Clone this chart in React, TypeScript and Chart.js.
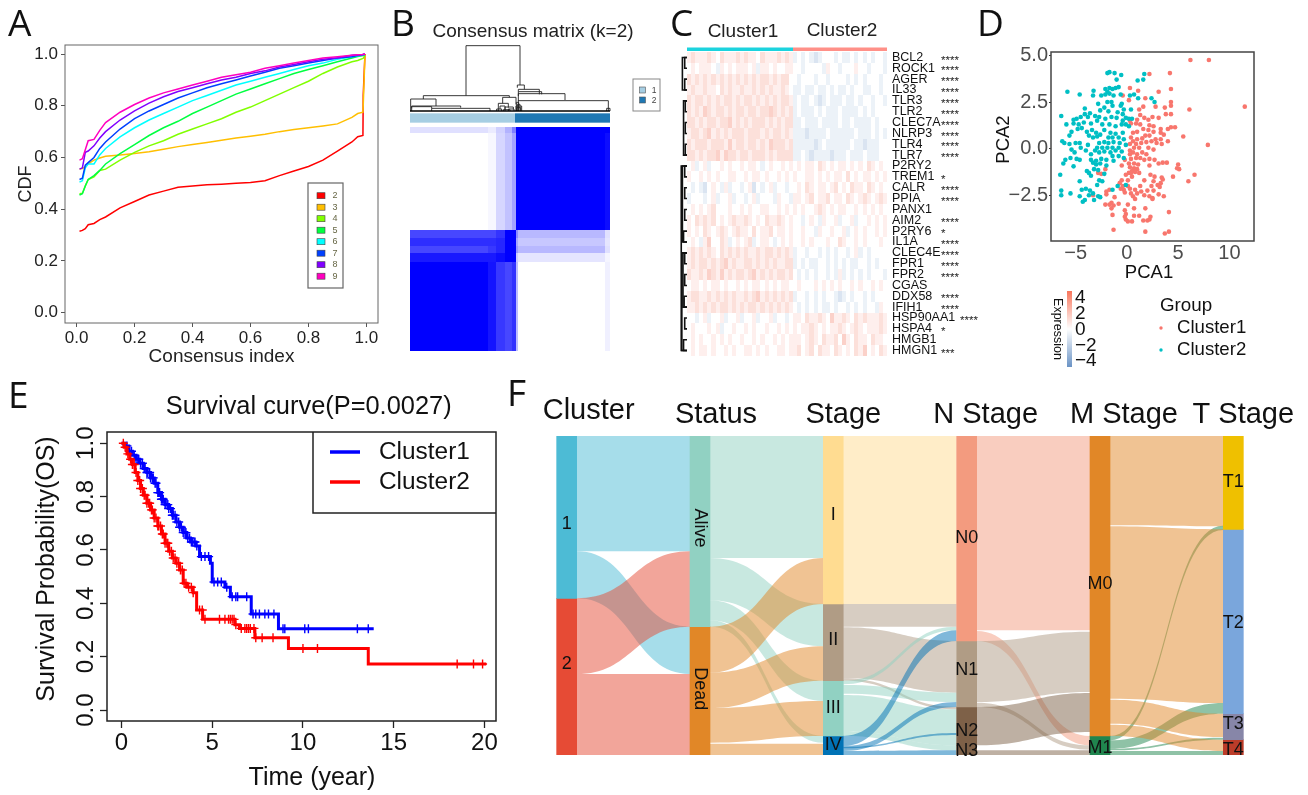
import React, { useEffect, useRef } from "react";
import { Chart, registerables } from "chart.js";
Chart.register(...registerables);

const FONT = '"Liberation Sans", Arial, sans-serif';
Chart.defaults.font.family = FONT;

/* ---------- Panel A ---------- */
const CONSENSUS_INDEX = [.01,.02,.03,.04,.06,.08,.1,.15,.2,.25,.3,.35,.4,.45,.5,.55,.6,.65,.7,.75,.8,.85,.9,.95,.97,.988,.989,.995];
const CDF_K2 = [.315,.318,.325,.34,.345,.36,.37,.405,.43,.455,.47,.485,.49,.495,.497,.5,.503,.51,.53,.548,.565,.59,.625,.66,.68,.685,.84,1];
const CDF_K3 = [.555,.557,.565,.575,.59,.598,.605,.61,.615,.622,.632,.642,.65,.658,.667,.675,.682,.69,.7,.708,.715,.722,.73,.755,.77,.775,.8,.995];
const CDF_K4 = [.46,.462,.49,.515,.525,.55,.555,.59,.62,.645,.665,.69,.71,.73,.75,.775,.795,.82,.845,.87,.895,.925,.95,.97,.975,.983,.984,.995];
const CDF_K5 = [.455,.46,.49,.515,.53,.55,.575,.615,.65,.685,.715,.74,.77,.795,.82,.845,.865,.885,.905,.925,.94,.955,.97,.985,.99,.994,.995,.998];
const CDF_K6 = [.505,.51,.56,.575,.575,.61,.635,.68,.715,.745,.77,.795,.82,.84,.86,.88,.895,.91,.925,.94,.955,.965,.98,.99,.993,.996,.997,.998];
const CDF_K7 = [.515,.52,.57,.58,.6,.635,.66,.71,.75,.78,.805,.83,.85,.87,.885,.9,.915,.93,.945,.955,.965,.975,.985,.99,.994,.997,.998,.998];
const CDF_K8 = [.555,.56,.62,.625,.645,.675,.7,.745,.78,.81,.835,.855,.87,.885,.9,.91,.925,.935,.95,.96,.97,.98,.985,.995,.997,.998,.999,1];
const CDF_K9 = [.59,.595,.63,.665,.67,.705,.735,.775,.805,.83,.85,.865,.88,.895,.91,.92,.93,.945,.955,.965,.975,.985,.99,.995,.997,.998,.999,1];
const CDF_SERIES = [CDF_K2, CDF_K3, CDF_K4, CDF_K5, CDF_K6, CDF_K7, CDF_K8, CDF_K9];
const K_LABELS = ["2","3","4","5","6","7","8","9"];
const K_COLORS = ["#FF0000","#FFBF00","#80FF00","#00FF40","#00FFFF","#0040FF","#8000FF","#FF00BF"];

/* ---------- Panel B ---------- */
const MATRIX_COLS = [0,235,258,285,305,318,325,585,600];
const MATRIX_ROWS = [-49,-67,-357,-381,-405,-427,-452,-719];
const MATRIX_VALUES = [
  [.12,.08,.18,.3,.5,1,1,1],
  [0,.03,.16,.24,.36,1,1,.95],
  [.72,.72,.8,1,1,.45,.28,.12],
  [.82,.82,.85,1,1,.35,.22,.1],
  [.72,.78,.85,1,1,.4,.28,.12],
  [.9,.9,.95,1,1,.2,.1,.04],
  [1,.92,.78,.72,.8,.25,0,.06],
];
// left, right, height, left-leg base, right-leg base
const MATRIX_DENDRO = [
  [168,330,196,46,78],[40,298,46,36,41],[2,78,36,0,15],[5,152,15,8,10],[5,65,13,0,8],[65,240,8,0,0],
  [278,318,41,23,20],[265,295,23,0,10],[270,285,15,5,3],[285,310,12,0,5],[295,312,6,0,0],[260,275,6,0,0],[280,300,4,0,0],
  [322,343,78,70,65],[325,388,65,58,50],[325,395,58,45,50],[325,465,52,30,33],[325,595,31,0,0],[590,600,8,0,0],
  [318,335,15,0,0],[320,332,10,0,0],[322,330,20,0,0],[319,326,26,0,0],
];
const MATRIX_GROUP_BREAK = 315;

/* ---------- Panel C ---------- */
const GENES = ["BCL2","ROCK1","AGER","IL33","TLR3","TLR2","CLEC7A","NLRP3","TLR4","TLR7","P2RY2","TREM1","CALR","PPIA","PANX1","AIM2","P2RY6","IL1A","CLEC4E","FPR1","FPR2","CGAS","DDX58","IFIH1","HSP90AA1","HSPA4","HMGB1","HMGN1"];
const GENE_STARS = ["****","****","****","****","****","****","****","****","****","****","","*","****","****","","****","*","****","****","****","****","","****","****","****","*","","***"];
const HEAT_ROWS = [
  "5655565465556 5655465556565 34343234443433434343443",
  "4545554354545 5545355454455 44344443544344454434443",
  "6565656565656 5656566565664 43444344344443434344434",
  "5655655465655 6556565655654 33433433434334344334434",
  "6566565656656 5665656565665 34334323433343343443443",
  "6565765665656 6566566765656 34333434333433334343444",
  "6656566566756 5656665656566 33433343333433433334344",
  "5665675656566 6566656566565 33323333433333343334343",
  "6566656665756 6566565766656 33333234333333433233344",
  "6656566757665 6656665656666 33432333323334333433344",
  "4534534454544 5455434544545 45455465454554545465454",
  "5445454544554 4545545445454 54455454545546454554545",
  "4343245435344 3452434534434 45465455456454655465454",
  "3444345344534 4345344435443 55456455645546545654565",
  "4545456444544 5454455445454 54544565454554454545454",
  "5465656454565 5654546556545 44345435445344534454545",
  "5454654565456 5546455645545 44544354454453454544545",
  "4543574465345 4563455434545 44545444544654454544454",
  "5656565465656 5655656656565 34434434343443453434444",
  "5656656567565 5665656565566 34343344343434334434344",
  "6556576575656 6567565656656 43434344343534343434443",
  "4554545545445 4545545454554 45444545454544545445454",
  "5665565656565 5656756565656 34434343443234344343444",
  "5565656566565 6566565656565 43434343343443434344354",
  "4434534453445 3445344534434 55465565475565465655565",
  "4544454534454 4545445445454 54556545455654565455565",
  "4545445454544 5445454454545 55456546556475465546554",
  "4545545445454 4554545445545 56456465546545465745465",
];
const HEAT_COLUMNS = 49;
const HEAT_CLUSTER_BREAK = 26;
// depth, first row, last row
const GENE_DENDRO = [[4,0,3],[2,0,1],[2,2,3],[3,4,9],[1.5,4,5],[1.5,6,7],[1.5,8,9],[5,10,27],[2,10,11],[2,12,13],[2,14,15],[3,16,17],[2,18,19],[2,20,21],[2.5,22,23],[2,24,25],[3,26,27],[3.5,18,23],[4,10,17],[4.5,18,27]];

/* ---------- Panel D ---------- */
const PCA_CLUSTER1 = [[6.2,4.75],[8,4.75],[11.5,2.25],[7.9,.2],[2.2,4],[4.2,4.05],[.3,3.25],[1.1,3.1],[3.1,3.05],[4.3,3.2],[-.4,2.85],[.2,2.6],[1.8,2.7],[4.3,2.5],[4.3,2.3],[3.7,2.2],[2.8,2.25],[1.6,2.25],[1.2,2.1],[6.1,2.1],[3.8,1.85],[4.3,1.85],[1.3,1.8],[1.7,1.65],[2.5,1.7],[3.1,1.65],[.3,1.5],[1,1.55],[2.1,1.55],[.9,1.35],[1.3,1.3],[.4,1.35],[2.2,1.25],[2.6,1.2],[4.3,1.15],[4.7,1.15],[3.3,1.05],[4,1.05],[5.5,.65],[1.6,1.05],[2.1,1],[2.6,.9],[1,.9],[.6,.85],[3.3,.85],[3.6,.75],[1.8,.7],[.4,.6],[2.2,.7],[1.5,.55],[1,.5],[.6,.4],[2.8,.5],[3.3,.5],[4,.4],[2.4,.4],[1.9,.35],[1.4,.3],[.9,.25],[.3,.25],[2.9,.3],[3.4,.25],[.7,.05],[1.2,.05],[2.1,.05],[2.6,-.05],[.3,-.1],[.6,-.2],[1,-.3],[1.5,-.2],[1.9,-.3],[.3,-.3],[.9,-.5],[1.3,-.5],[.4,-.55],[1.7,-.6],[2.2,-.55],[2.7,-.6],[-.2,-.6],[.2,-.8],[.7,-.8],[1.1,-.85],[3.1,-.8],[3.5,-.75],[3.9,-.75],[2.2,-.9],[.3,-1],[.7,-1.05],[1,-1.1],[5,-.85],[4.9,-1.05],[.5,-1.2],[.8,-1.25],[.2,-1.3],[1.2,-1.3],[.4,-1.3],[-.5,-.9],[-2.8,-1.3],[-2.5,-1.35],[-2.1,-1.1],[-.1,-1.4],[.5,-1.5],[2.3,-1.4],[2.7,-1.5],[3.4,-1.55],[3.5,-1.65],[4.5,-1.5],[5.1,-1.1],[6.6,-1.4],[6,-1.75],[-.5,-1.7],[-.7,-1.85],[.1,-1.7],[1.7,-1.7],[2.6,-1.75],[3.3,-1.85],[-.4,-2],[.1,-2],[1.3,-2],[2.4,-2],[3,-1.95],[3.2,-2.05],[-.6,-2.15],[-.3,-2.2],[.3,-2.15],[.8,-2.2],[1.4,-2.3],[2,-2.25],[2.6,-2.25],[-1.7,-2.2],[-2,-2.3],[-.2,-2.35],[.4,-2.4],[1,-2.4],[3.1,-2.45],[-3.3,-2.5],[-2,-2.45],[.6,-2.55],[1.7,-2.5],[2.2,-2.55],[2.5,-2.65],[3.6,-2.55],[-1.2,-2.6],[.8,-2.7],[2.5,-2.7],[-1.5,-2.9],[-2.1,-3],[-1.7,-3],[-1.3,-3.05],[-.8,-2.95],[.1,-3],[-1.5,-3.2],[.7,-3.2],[1.8,-3.2],[-.2,-3.3],[-.1,-3.5],[4.1,-3.4],[-1.4,-3.55],[-.2,-3.65],[.7,-3.6],[1.2,-3.6],[2.3,-3.65],[-.1,-3.8],[.1,-3.9],[.5,-3.9],[1.6,-3.85],[2,-3.85],[2.2,-3.8],[-1.3,-4.35],[1.8,-4.45],[3.7,-4.55],[4.1,-4.45]];
const PCA_CLUSTER2 = [[-1.9,4.05],[-1.7,4.1],[-1.2,4.05],[-.55,3.95],[-1,3.7],[1.7,4],[1.6,3.7],[1.05,3.65],[-5.8,3.05],[-3.25,3.1],[-2.1,3.2],[-1.9,3.05],[-1.7,3.25],[-1.4,3.2],[-1.1,3.25],[-.8,3.3],[-4.6,2.9],[-3.3,2.85],[-2.5,2.85],[-2.1,2.9],[-1.7,2.95],[-1.3,2.85],[-.6,2.9],[.3,2.85],[.7,2.9],[1.1,2.7],[2.4,2.7],[2.7,2.5],[-2.8,2.4],[-1.9,2.5],[-1.5,2.5],[-.5,2.4],[-4.1,2.15],[-2.2,2.2],[-1.4,2.3],[-.6,2.3],[-.3,2.1],[.4,2.1],[-3.6,1.9],[-2.6,2.05],[-1.8,2],[-.9,1.95],[-.4,1.85],[-4.1,1.85],[-4.5,1.7],[-4.9,1.6],[-5.2,1.55],[-6.4,1.75],[-3.8,1.7],[-3.1,1.75],[-2.7,1.7],[-2.1,1.6],[-1.5,1.7],[-1,1.65],[-.4,1.5],[-.1,1.65],[.2,1.6],[.5,1.6],[-5.9,1.3],[-5.2,1.35],[-4.7,1.3],[-4.2,1.4],[-3.5,1.35],[-2.9,1.5],[-2.4,1.3],[-1.7,1.3],[-1.1,1.2],[-.5,1.3],[-.1,1.3],[.2,1.2],[-5.4,.9],[-4.8,1.05],[-4.4,1.1],[-3.9,.9],[-3.4,1],[-3,.85],[-2.6,.75],[-2.2,1],[-1.6,.85],[-1.1,.8],[-.4,.85],[-5.6,.7],[-3.7,.7],[-3.3,.6],[-2.9,.65],[-1.8,.6],[-1.4,.6],[-.8,.6],[-.3,.5],[-6.3,.4],[-6.1,.3],[-5.6,.25],[-5,.3],[-4.6,.3],[-3.8,.2],[-2.7,.3],[-2.2,.35],[-1.8,.3],[-1.3,.35],[-.7,.3],[-.1,.2],[-5.4,-.05],[-4.5,.05],[-2.9,.05],[-2.4,.05],[-1.9,.05],[-1.4,.05],[-.8,.05],[-5.1,-.2],[-4,-.1],[-3.1,-.1],[-2.7,-.2],[-2.2,-.15],[-1.6,-.2],[-1.1,-.1],[-.5,-.15],[-3.5,-.3],[-1.4,-.4],[-.8,-.4],[-6,-.6],[-5.5,-.5],[-4.9,-.55],[-4.6,-.6],[-3.5,-.6],[-3,-.65],[-2.5,-.55],[-2,-.6],[-1.3,-.65],[-.3,-.5],[-6.2,-.8],[-5.2,-.95],[-3.3,-.75],[-3,-.85],[-2.6,-.8],[-2,-.9],[-3.2,-1.1],[-3.9,-1.2],[-3.7,-1.3],[-2.8,-1.15],[-3.5,-1.45],[-2.2,-1.35],[-6.5,-1.4],[-4.6,-1.75],[-2.7,-1.7],[-2.9,-1.95],[-2.4,-1.75],[-4.4,-2.2],[-4,-2.15],[-3.6,-2.25],[-3.3,-2.4],[-6.4,-2.25],[-6.4,-2.5],[-5.5,-2.4],[-4.6,-2.55],[-3.7,-2.5],[-2.8,-2.55],[-1.4,-2.2],[-.9,-2],[-.1,-1.95],[-2.6,-2.6],[-4.1,-2.75],[-4.3,-2.85],[-3.2,-2.75]];
const EXPRESSION_TICKS = [4,2,0,-2,-4];

/* ---------- Panel E ---------- */
const C1_TIME = [0,.2,.4,.6,.8,1,1.2,1.4,1.6,1.8,2,2.2,2.4,2.6,2.8,3,3.2,3.4,3.6,3.8,4.1,4.3,4.9,5,5.7,6,7.15,8.65,13.9];
const C1_SURV = [1,.99,.97,.955,.94,.925,.905,.89,.87,.85,.815,.79,.77,.755,.73,.705,.685,.665,.645,.63,.615,.575,.55,.48,.46,.425,.36,.305,.305];
const C2_TIME = [0,.15,.3,.45,.6,.75,.9,1.05,1.2,1.4,1.6,1.8,2,2.2,2.4,2.6,2.8,3,3.2,3.4,3.6,3.95,4.14,4.47,6.25,6.5,7.35,9.2,13.6,20.1];
const C2_SURV = [1,.985,.96,.94,.92,.89,.86,.83,.805,.775,.75,.72,.69,.66,.625,.595,.57,.55,.525,.475,.46,.44,.375,.34,.32,.306,.271,.231,.1725,.1725];
const C1_CENSOR = [.3,.45,.55,.7,.8,.9,.95,1.05,1.15,1.25,1.3,1.4,1.45,1.55,1.6,1.7,1.75,1.85,1.9,2,2.05,2.1,2.2,2.25,2.3,2.4,2.45,2.55,2.6,2.7,2.8,2.85,2.95,3.05,3.15,3.2,3.3,3.4,3.5,3.55,3.65,3.75,3.85,3.9,4,4.05,4.15,4.4,4.6,4.8,5.1,5.3,5.5,5.8,6.1,6.3,6.4,6.9,7.25,7.4,7.6,7.9,8.1,8.4,8.9,9,10.1,10.3,13,13.6];
const C2_CENSOR = [.1,.2,.35,.5,.6,.7,.8,.9,1,1.05,1.15,1.25,1.3,1.4,1.5,1.55,1.65,1.7,1.8,1.9,2,2.05,2.15,2.25,2.3,2.4,2.5,2.55,2.65,2.75,2.85,2.95,3.05,3.15,3.25,3.35,3.45,3.55,3.7,3.85,3.95,4.3,4.45,4.6,5.4,5.7,5.9,6,6.1,6.2,6.3,6.6,6.8,6.9,7,7.1,7.3,7.4,7.75,8.35,10,10.8,18.5,19.4,19.9];

/* ---------- Panel F ---------- */
const AXES = ["Cluster","Status","Stage","N Stage","M Stage","T Stage"];
const AXIS_TITLE_SHIFT = [22,16,10,19,24,10];
const NODE_NAMES = ["1","2","Alive","Dead","I","II","III","IV","N0","N1","N2","N3","M0","M1","T1","T2","T3","T4"];
const NODE_AXIS =  [0,0,1,1,2,2,2,2,3,3,3,3,4,4,5,5,5,5];
const NODE_START = [167,654,167,739,167,671,901,1067,167,782,980,1095,167,1067,167,447,1000,1078];
const NODE_END =   [654,1124,739,1124,671,901,1067,1124,782,980,1095,1124,1067,1124,447,1000,1078,1124];
const NODE_LABEL_AT = [430,850,443,925,405,778,983,1095,472,870,1052,1113,612,1103,305,728,1030,1108];
const NODE_COLORS = ["#4DBBD5","#E64B35","#91D1C2","#E18727","#FFDC91","#B09C85","#91D1C2","#0072B5","#F39B7F","#B09C85","#7E6148","#7E6148","#E18727","#20854E","#EFC000","#7AA6DC","#8786A8","#BC3C29"];
// source node, from top, from bottom, to top, to bottom
const FLOWS = [
  [0,167,513,167,513],[0,513,654,739,881],[1,654,881,513,739],[1,881,1124,881,1124],
  [2,167,533,167,533],[2,533,660,671,798],[2,660,720,901,962],[2,720,739,1067,1087],
  [3,739,877,533,671],[3,877,983,798,901],[3,983,1087,962,1067],[3,1090,1124,1090,1124],
  [4,167,671,167,671],[5,671,739,671,739],[5,741,894,782,937],[5,894,901,980,987],
  [6,901,912,739,750],[6,914,940,937,965],[6,944,1052,987,1095],[6,1052,1067,1095,1110],
  [7,1067,1097,750,782],[7,1097,1112,965,980],[7,1112,1124,1110,1124],
  [8,167,750,167,750],[8,752,782,1067,1095],[9,782,965,754,935],[9,967,980,1095,1108],
  [10,980,1095,938,1055],[7,1100,1104,1058,1064],[11,1110,1124,1110,1124],
  [12,167,435,167,438],[13,1067,1080,436,449],[12,438,955,447,968],[13,1080,1105,968,1000],
  [12,958,1030,1000,1070],[13,1105,1110,1072,1078],[12,1033,1067,1078,1112],[13,1112,1124,1112,1124],
];

const PANEL_LETTERS = [["A",8,2],["B",391,2],["C",670,2],["D",977,2],["E",8,374],["F",507,372]];

/* ---------- helpers ---------- */
const stepAt = (ts: number[], ss: number[], t: number) => {
  let v = ss[0];
  ts.forEach((x, i) => { if (x <= t) v = ss[i]; });
  return v;
};
const zip = (xs: number[], ys: number[]) => xs.map((x, i) => ({ x, y: ys[i] }));
const fit = (size: number) => (s: any) => {
  if (s.isHorizontal()) s.height = size; else s.width = size;
  s.paddingLeft = s.paddingRight = s.paddingTop = s.paddingBottom = 0;
};
const text = (ctx: any, str: string, x: number, y: number, font: string, color = "#000", align = "left", rot = 0) => {
  ctx.save();
  ctx.translate(x, y);
  if (rot) ctx.rotate(rot);
  ctx.font = font + " " + FONT;
  ctx.fillStyle = color;
  ctx.textAlign = align;
  ctx.textBaseline = "middle";
  ctx.fillText(str, 0, 0);
  ctx.restore();
};
const frame = (color: string, width: number) => ({
  id: "frame",
  afterDatasetsDraw(chart: any) {
    const { left, top, right, bottom } = chart.chartArea;
    const c = chart.ctx;
    c.save();
    c.strokeStyle = color;
    c.lineWidth = width;
    c.strokeRect(left, top, right - left, bottom - top);
    c.restore();
  },
});
const BASE = {
  responsive: false,
  animation: false,
  events: [] as string[],
};
const quiet = { legend: { display: false }, tooltip: { enabled: false } };

/* ---------- configs; rect = [left, top, width, height] in page pixels ---------- */
const panelA = {
  rect: [15, 30, 385, 338],
  config: () => ({
    type: "line",
    data: {
      datasets: CDF_SERIES.map((s, i) => ({
        label: K_LABELS[i],
        data: zip(CONSENSUS_INDEX, s),
        borderColor: K_COLORS[i],
        borderWidth: 1.5,
        pointRadius: 0,
        tension: 0,
        order: 8 - i,
      })),
    },
    options: {
      ...BASE,
      layout: { padding: { top: 15, right: 22 } },
      plugins: quiet,
      scales: {
        x: {
          type: "linear", min: -.04, max: 1.04, afterFit: fit(45),
          border: { display: false },
          grid: { drawOnChartArea: false, tickLength: 4, tickColor: "#555" },
          ticks: { stepSize: .2, includeBounds: false, maxRotation: 0, padding: 1, color: "#222", font: { size: 17 }, callback: (v: number) => v.toFixed(1) },
          title: { display: true, text: "Consensus index", padding: 0, color: "#222", font: { size: 19 } },
        },
        y: {
          min: -.04, max: 1.035, afterFit: fit(50),
          border: { display: false },
          grid: { drawOnChartArea: false, tickLength: 4, tickColor: "#555" },
          ticks: { stepSize: .2, includeBounds: false, padding: 3, color: "#222", font: { size: 17 }, callback: (v: number) => v.toFixed(1) },
          title: { display: true, text: "CDF", padding: 0, color: "#222", font: { size: 18 } },
        },
      },
    },
    plugins: [frame("#666", 1), {
      id: "legendA",
      afterDraw(chart: any) {
        const c = chart.ctx;
        c.save();
        c.translate(-15, -30);
        c.fillStyle = "#fff";
        c.strokeStyle = "#666";
        c.lineWidth = 1.2;
        c.fillRect(308, 183, 35, 105);
        c.strokeRect(308, 183, 35, 105);
        K_LABELS.forEach((k, i) => {
          const y = 195.7 + i * 11.5;
          c.fillStyle = K_COLORS[i];
          c.fillRect(317, y - 3, 8, 6);
          c.strokeStyle = "#444";
          c.lineWidth = .6;
          c.strokeRect(317, y - 3, 8, 6);
          text(c, k, 335, y, "9px", "#664", "center");
        });
        c.restore();
      },
    }],
  }),
};

const panelB = {
  rect: [390, 20, 286, 340],
  config: () => ({
    type: "scatter",
    data: { datasets: [] },
    options: {
      ...BASE,
      layout: { padding: { left: 20, right: 66, top: 25, bottom: 9 } },
      plugins: quiet,
      scales: {
        x: { type: "linear", min: 0, max: 600, display: false },
        y: { type: "linear", min: -720, max: 198, display: false },
      },
    },
    plugins: [{
      id: "matrix",
      afterDraw(chart: any) {
        const c = chart.ctx;
        const X = (v: number) => chart.scales.x.getPixelForValue(v);
        const Y = (v: number) => chart.scales.y.getPixelForValue(v);
        c.save();
        MATRIX_VALUES.forEach((row, r) => row.forEach((a, k) => {
          if (!a) return;
          c.fillStyle = `rgba(0,0,255,${a})`;
          const x0 = Math.round(X(MATRIX_COLS[k])), x1 = Math.round(X(MATRIX_COLS[k + 1]));
          const y0 = Math.round(Y(MATRIX_ROWS[r])), y1 = Math.round(Y(MATRIX_ROWS[r + 1]));
          c.fillRect(x0, y0, x1 - x0, y1 - y0);
        }));
        c.fillStyle = "#A6CEE3";
        c.fillRect(X(0), Y(-7), X(MATRIX_GROUP_BREAK) - X(0), Y(-35) - Y(-7));
        c.fillStyle = "#1F78B4";
        c.fillRect(X(MATRIX_GROUP_BREAK), Y(-7), X(600) - X(MATRIX_GROUP_BREAK), Y(-35) - Y(-7));
        c.strokeStyle = "#222";
        c.lineWidth = .9;
        MATRIX_DENDRO.forEach(([l, r, h, bl, br]) => {
          c.beginPath();
          c.moveTo(X(l), Y(bl));
          c.lineTo(X(l), Y(h));
          c.lineTo(X(r), Y(h));
          c.lineTo(X(r), Y(br));
          c.stroke();
        });
        c.lineWidth = 1.5;
        c.strokeStyle = "#000";
        c.beginPath();
        c.moveTo(X(0), Y(0));
        c.lineTo(X(600), Y(0));
        c.stroke();
        // title and legend, in page pixels
        c.translate(-390, -20);
        text(c, "Consensus matrix (k=2)", 533, 32, "19px", "#222", "center");
        c.strokeStyle = "#888";
        c.lineWidth = 1;
        c.strokeRect(633, 79, 27, 32);
        c.fillStyle = "#A6CEE3";
        c.fillRect(639.5, 87, 6, 6);
        c.strokeStyle = "#555";
        c.lineWidth = .6;
        c.strokeRect(639.5, 87, 6, 6);
        c.fillStyle = "#1F78B4";
        c.fillRect(639.5, 97, 6, 6);
        c.strokeRect(639.5, 97, 6, 6);
        text(c, "1", 654, 90.5, "8.5px", "#444", "center");
        text(c, "2", 654, 100.5, "8.5px", "#444", "center");
        c.restore();
      },
    }],
  }),
};

const heatColor = (v: number) => {
  const a = (Math.abs(v) / 4) * 0.42;
  return v >= 0 ? `rgba(242,107,82,${a})` : `rgba(79,129,189,${a})`;
};
const panelC = {
  rect: [670, 20, 310, 345],
  config: () => ({
    type: "scatter",
    data: { labels: GENES, datasets: [] },
    options: {
      ...BASE,
      layout: { padding: { left: 17, top: 32, bottom: 9 } },
      plugins: quiet,
      scales: {
        x: { type: "linear", min: 0, max: HEAT_COLUMNS, display: false },
        y: {
          type: "category", labels: GENES, position: "right", offset: true, afterFit: fit(93),
          border: { display: false },
          grid: { display: false, drawTicks: false },
          ticks: { autoSkip: false, padding: 5, color: "#111", font: { size: 12.5 } },
        },
      },
    },
    plugins: [{
      id: "heat",
      beforeDatasetsDraw(chart: any) {
        const c = chart.ctx;
        const X = (v: number) => Math.round(chart.scales.x.getPixelForValue(v));
        const Y = (v: number) => chart.scales.y.getPixelForValue(v);
        c.save();
        HEAT_ROWS.forEach((row, r) => {
          const cells = row.replace(/ /g, "");
          for (let k = 0; k < cells.length; k++) {
            c.fillStyle = heatColor(Number(cells[k]) - 4);
            const y0 = Math.round(Y(r - .5)), y1 = Math.round(Y(r + .5));
            c.fillRect(X(k), y0, X(k + 1) - X(k), y1 - y0);
          }
          if (GENE_STARS[r]) {
            const sx = GENES[r] === "HSP90AA1" ? 960 : 941;
            text(c, GENE_STARS[r], sx - 670, Y(r) + 3, "11.5px", "#222");
          }
        });
        c.fillStyle = "#1CD3DE";
        c.fillRect(X(0), 27.5, X(HEAT_CLUSTER_BREAK) - X(0), 3.5);
        c.fillStyle = "#FF9088";
        c.fillRect(X(HEAT_CLUSTER_BREAK), 27.5, X(HEAT_COLUMNS) - X(HEAT_CLUSTER_BREAK), 3.5);
        text(c, "Cluster1", 73, 11.5, "19px", "#222", "center");
        text(c, "Cluster2", 172, 10.5, "19px", "#222", "center");
        c.strokeStyle = "#111";
        c.lineWidth = 1.6;
        GENE_DENDRO.forEach(([d, a, b]) => {
          const dx = X(0) - d * 1.15;
          c.beginPath();
          c.moveTo(X(0), Y(a));
          c.lineTo(dx, Y(a));
          c.lineTo(dx, Y(b));
          c.lineTo(X(0), Y(b));
          c.stroke();
        });
        c.restore();
      },
    }],
  }),
};

const toPts = (a: number[][]) => a.map(([x, y]) => ({ x, y }));
const panelD = {
  rect: [993, 40, 315, 335],
  config: () => ({
    type: "scatter",
    data: {
      datasets: [
        { label: "Cluster2", data: toPts(PCA_CLUSTER2), backgroundColor: "#00BFC4", pointRadius: 2.3, pointBorderWidth: 0 },
        { label: "Cluster1", data: toPts(PCA_CLUSTER1), backgroundColor: "#F8766D", pointRadius: 2.3, pointBorderWidth: 0 },
      ],
    },
    options: {
      ...BASE,
      layout: { padding: { top: 12, right: 54, bottom: 91 } },
      plugins: quiet,
      scales: {
        x: {
          type: "linear", min: -7.4, max: 12.4, afterFit: fit(43),
          border: { display: false },
          grid: { display: false, drawOnChartArea: false, drawTicks: false, tickLength: 0 },
          ticks: { stepSize: 5, includeBounds: false, maxRotation: 0, padding: 0, color: "#4D4D4D", font: { size: 20 }, callback: (v: number) => String(v).replace("-", "\u2212") },
        },
        y: {
          min: -4.95, max: 5.18, afterFit: fit(58),
          border: { display: false },
          grid: { drawOnChartArea: false, tickLength: 2, tickColor: "#333" },
          ticks: { stepSize: 2.5, includeBounds: false, padding: 1, color: "#4D4D4D", font: { size: 20 }, callback: (v: number) => v.toFixed(1).replace("-", "\u2212") },
        },
      },
    },
    plugins: [frame("#444", 1.5), {
      id: "legendD",
      afterDraw(chart: any) {
        const c = chart.ctx;
        c.save();
        c.translate(-993, -40);
        text(c, "PCA1", 1149, 273, "18.5px", "#111", "center");
        text(c, "PCA2", 1004, 139.5, "18.5px", "#111", "center", -Math.PI / 2);
        const g = c.createLinearGradient(0, 291, 0, 367);
        g.addColorStop(0, "#F8765C");
        g.addColorStop(.5, "#FFFFFF");
        g.addColorStop(1, "#6A93C5");
        c.fillStyle = g;
        c.fillRect(1067, 291, 5, 76);
        EXPRESSION_TICKS.forEach((t, i) => {
          text(c, String(t).replace("-", "\u2212"), 1075, 298 + i * 15.8, "19px", "#111");
        });
        text(c, "Expression", 1057, 329, "12.5px", "#111", "center", Math.PI / 2);
        text(c, "Group", 1160, 306, "18.8px", "#111");
        [["Cluster1", "#F8766D", 328], ["Cluster2", "#00BFC4", 350]].forEach(([n, col, y]: any) => {
          c.fillStyle = col;
          c.beginPath();
          c.arc(1161, y, 1.7, 0, Math.PI * 2);
          c.fill();
          text(c, n, 1177, y, "18.6px", "#111");
        });
        c.restore();
      },
    }],
  }),
};

const cross = (times: number[], ts: number[], ss: number[]) => times.map((t) => ({ x: t, y: stepAt(ts, ss, t) }));
const panelE = {
  rect: [32, 392, 478, 401],
  config: () => ({
    type: "line",
    data: {
      datasets: [
        { label: "Cluster2", data: zip(C2_TIME, C2_SURV), borderColor: "#FF0000", borderWidth: 3, pointRadius: 0, stepped: true, order: 1 },
        { label: "Cluster2 censored", data: cross(C2_CENSOR, C2_TIME, C2_SURV), showLine: false, pointStyle: "cross", pointRadius: 4.5, pointBorderWidth: 1.4, pointBorderColor: "#FF0000", order: 2 },
        { label: "Cluster1", data: zip(C1_TIME, C1_SURV), borderColor: "#0000FF", borderWidth: 3, pointRadius: 0, stepped: true, order: 3 },
        { label: "Cluster1 censored", data: cross(C1_CENSOR, C1_TIME, C1_SURV), showLine: false, pointStyle: "cross", pointRadius: 4.5, pointBorderWidth: 1.4, pointBorderColor: "#0000FF", order: 4 },
      ],
    },
    options: {
      ...BASE,
      layout: { padding: { top: 40, right: 14 } },
      plugins: quiet,
      scales: {
        x: {
          type: "linear", min: -.8, max: 20.64, afterFit: fit(72),
          border: { display: false },
          grid: { drawOnChartArea: false, tickLength: 7, tickColor: "#222", tickWidth: 1.3 },
          ticks: { stepSize: 5, includeBounds: false, maxRotation: 0, padding: 1, color: "#111", font: { size: 24 } },
        },
        y: {
          min: -.041, max: 1.042, afterFit: fit(75),
          border: { display: false },
          grid: { drawOnChartArea: false, tickLength: 7, tickColor: "#222", tickWidth: 1.3 },
          ticks: { stepSize: .2, includeBounds: false, minRotation: 90, maxRotation: 90, crossAlign: "center", padding: -3, color: "#111", font: { size: 24 }, callback: (v: number) => v.toFixed(1) },
        },
      },
    },
    plugins: [frame("#222", 1.5), {
      id: "legendE",
      afterDraw(chart: any) {
        const c = chart.ctx;
        c.save();
        c.translate(-32, -392);
        text(c, "Survival curve(P=0.0027)", 308.7, 407, "25.4px", "#111", "center");
        text(c, "Time (year)", 312, 778, "25px", "#111", "center");
        text(c, "Survival Probability(OS)", 46.7, 569, "25px", "#111", "center", -Math.PI / 2);
        c.strokeStyle = "#222";
        c.lineWidth = 1.5;
        c.beginPath();
        c.moveTo(313, 432);
        c.lineTo(313, 513);
        c.lineTo(496, 513);
        c.stroke();
        [["Cluster1", "#0000FF", 452], ["Cluster2", "#FF0000", 482]].forEach(([n, col, y]: any) => {
          c.strokeStyle = col;
          c.lineWidth = 3.5;
          c.beginPath();
          c.moveTo(330, y);
          c.lineTo(360, y);
          c.stroke();
          text(c, n, 379, y, "24.4px", "#111");
        });
        c.restore();
      },
    }],
  }),
};

const hexA = (hex: string, a: number) => {
  const n = parseInt(hex.slice(1), 16);
  return `rgba(${n >> 16},${(n >> 8) & 255},${n & 255},${a})`;
};
const panelF = {
  rect: [500, 395, 808, 370],
  config: () => ({
    type: "bar",
    data: {
      labels: AXES,
      datasets: NODE_NAMES.map((n, i) => ({
        label: n,
        data: AXES.map((_, k) => (k === NODE_AXIS[i] ? [NODE_START[i], NODE_END[i]] : null)),
        backgroundColor: NODE_COLORS[i],
        borderWidth: 0,
        barThickness: 20,
        grouped: false,
      })),
    },
    options: {
      ...BASE,
      layout: { padding: { top: 41, right: 8, bottom: 10 } },
      plugins: quiet,
      scales: {
        x: { type: "category", offset: true, display: false },
        y: { type: "linear", reverse: true, min: 167, max: 1124, display: false },
      },
    },
    plugins: [{
      id: "flows",
      beforeDatasetsDraw(chart: any) {
        const c = chart.ctx;
        const X = (v: number) => chart.scales.x.getPixelForValue(v);
        const Y = (v: number) => chart.scales.y.getPixelForValue(v);
        c.save();
        FLOWS.forEach(([src, a0, a1, b0, b1]) => {
          const col = NODE_AXIS[src];
          const x0 = X(col) + 10, x1 = X(col + 1) - 10, m = (x0 + x1) / 2;
          c.fillStyle = hexA(NODE_COLORS[src], .5);
          c.beginPath();
          c.moveTo(x0, Y(a0));
          c.bezierCurveTo(m, Y(a0), m, Y(b0), x1, Y(b0));
          c.lineTo(x1, Y(b1));
          c.bezierCurveTo(m, Y(b1), m, Y(a1), x0, Y(a1));
          c.closePath();
          c.fill();
        });
        c.restore();
      },
      afterDraw(chart: any) {
        const c = chart.ctx;
        const X = (v: number) => chart.scales.x.getPixelForValue(v);
        const Y = (v: number) => chart.scales.y.getPixelForValue(v);
        c.save();
        AXES.forEach((a, i) => {
          text(c, a, X(i) + AXIS_TITLE_SHIFT[i], i === 0 ? 16 : 20, "29px", "#111", "center");
        });
        NODE_NAMES.forEach((n, i) => {
          const rot = n === "Alive" || n === "Dead" ? Math.PI / 2 : 0;
          text(c, n, X(NODE_AXIS[i]), Y(NODE_LABEL_AT[i]), "18px", "#111", "center", rot);
        });
        c.restore();
      },
    }],
  }),
};

const PANELS = [panelA, panelB, panelC, panelD, panelE, panelF];

export default function App() {
  const refs = useRef<(HTMLCanvasElement | null)[]>([]);
  useEffect(() => {
    const charts = PANELS.map((p, i) => new Chart(refs.current[i] as any, p.config() as any));
    return () => charts.forEach((c) => c.destroy());
  }, []);
  return (
    <div style={{ position: "absolute", left: 0, top: 0, width: 1308, height: 795, background: "#fff", overflow: "hidden" }}>
      {PANELS.map((p, i) => (
        <canvas
          key={i}
          ref={(el) => { refs.current[i] = el; }}
          width={p.rect[2]}
          height={p.rect[3]}
          style={{ position: "absolute", left: p.rect[0], top: p.rect[1], width: p.rect[2], height: p.rect[3] }}
        />
      ))}
      {PANEL_LETTERS.map(([t, x, y]: any) => (
        <div key={t} style={{ position: "absolute", left: x, top: y, font: '37px/40px "Open Sans", sans-serif', color: "#111" }}>{t}</div>
      ))}
    </div>
  );
}
